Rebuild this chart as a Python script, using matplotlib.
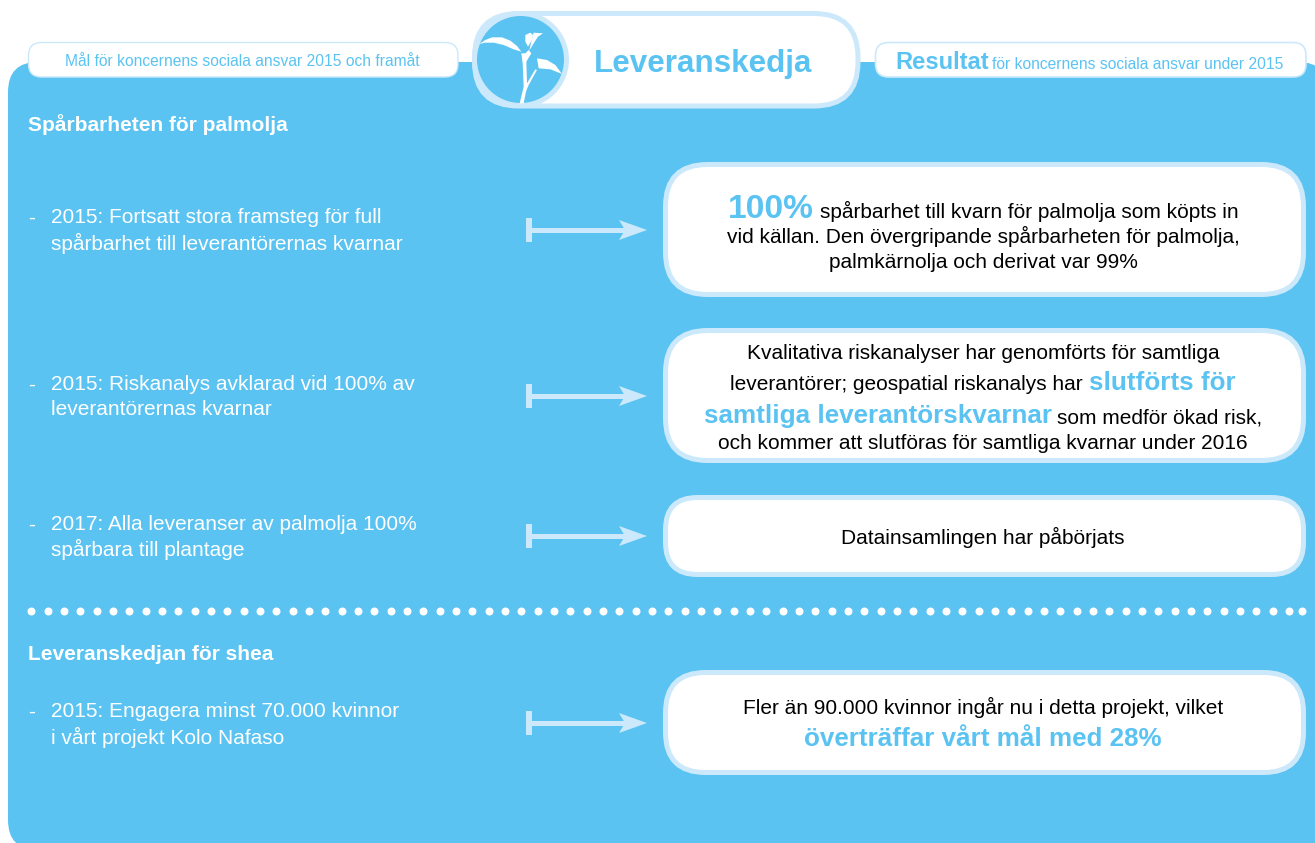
import numpy as np
from matplotlib import pyplot as plt
from matplotlib.patches import FancyBboxPatch, Circle, Polygon

plt.rcParams['font.family'] = ['Liberation Sans', 'DejaVu Sans']

BLUE = '#5AC3F2'
PALE = '#CBE9FB'

# texts
left_header = 'Mål för koncernens sociala ansvar 2015 och framåt'
right_header = 'för koncernens sociala ansvar under 2015'
section_titles = ['Spårbarheten för palmolja', 'Leveranskedjan för shea']
section_y = [124, 654]
goals = [
    ['2015: Fortsatt stora framsteg för full', 'spårbarhet till leverantörernas kvarnar'],
    ['2015: Riskanalys avklarad vid 100% av', 'leverantörernas kvarnar'],
    ['2017: Alla leveranser av palmolja 100%', 'spårbara till plantage'],
    ['2015: Engagera minst 70.000 kvinnor', 'i vårt projekt Kolo Nafaso'],
]
goal_y = [[217, 243], [384, 409], [524, 549], [711, 737]]
arrow_y = [230, 396, 536, 723]

# result boxes: top, bottom, corner
box_top = [162, 328, 495, 670]
box_bottom = [297, 463, 577, 775]
box_round = [42, 42, 32, 40]

# result lines: (baseline y, [(text, highlight size)])
result_lines = [
    (218, [('100%', 33.5), (' spårbarhet till kvarn för palmolja som köpts in', 0)]),
    (243, [('vid källan. Den övergripande spårbarheten för palmolja,', 0)]),
    (268, [('palmkärnolja och derivat var 99%', 0)]),
    (359, [('Kvalitativa riskanalyser har genomförts för samtliga', 0)]),
    (390, [('leverantörer; geospatial riskanalys har ', 0), ('slutförts för', 26)]),
    (423, [('samtliga leverantörskvarnar', 26), (' som medför ökad risk,', 0)]),
    (449, [('och kommer att slutföras för samtliga kvarnar under 2016', 0)]),
    (544, [('Datainsamlingen har påbörjats', 0)]),
    (714, [('Fler än 90.000 kvinnor ingår nu i detta projekt, vilket', 0)]),
    (746, [('överträffar vårt mål med 28%', 26)]),
]

fig = plt.figure(figsize=(13.15, 8.43), dpi=100)
ax = fig.add_axes([0, 0, 1, 1])
ax.set_xlim(0, 1315)
ax.set_ylim(843, 0)
ax.axis('off')


def rbox(x0, y0, x1, y1, r, fc, ec='none', lw=0, z=1):
    p = FancyBboxPatch((x0 + r, y0 + r), x1 - x0 - 2 * r, y1 - y0 - 2 * r,
                       boxstyle=f'round,pad={r},rounding_size={r}',
                       fc=fc, ec=ec, lw=lw, zorder=z)
    ax.add_patch(p)


def px(n):
    # pixels to points
    return n * 72 / 100


def runs(cx, y, parts):
    # centered line made of differently styled pieces
    renderer = fig.canvas.get_renderer()
    space = 5.8
    items = []
    widths = []
    for text, size in parts:
        if size:
            t = ax.text(0, y, text.strip(), fontsize=px(size), color=BLUE, weight='bold',
                        va='baseline', ha='left', zorder=5)
        else:
            t = ax.text(0, y, text.strip(), fontsize=px(20.85), color='black',
                        va='baseline', ha='left', zorder=5)
        w = t.get_window_extent(renderer).width
        if text.startswith(' '):
            w += space
        if text.endswith(' '):
            w += space
        items.append(t)
        widths.append(w)
    x = cx - sum(widths) / 2
    for (text, size), t, w in zip(parts, items, widths):
        t.set_x(x + (space if text.startswith(' ') else 0))
        x += w


# main panel
rbox(8, 62, 1328, 850, 30, BLUE)

# header tabs
rbox(28.5, 42.5, 458, 77, 13, 'white', ec=PALE, lw=1, z=2)
rbox(875.5, 42.5, 1306, 77, 13, 'white', ec=PALE, lw=1.2, z=2)
ax.text(242, 61.5, left_header, fontsize=px(15.65), color=BLUE, ha='center', va='center', zorder=5)
ax.text(895.5, 69, 'Resultat', fontsize=px(23.8), color=BLUE, weight='bold', ha='left', va='baseline', zorder=5)
ax.text(992, 69, right_header, fontsize=px(15.6), color=BLUE, ha='left', va='baseline', zorder=5)

# title pill with plant
rbox(474.5, 13.5, 858, 106, 44, 'white', ec=PALE, lw=px(5), z=2)
ax.text(703, 72, 'Leveranskedja', fontsize=px(31.4), color=BLUE, weight='bold', ha='center', va='baseline', zorder=5)
ax.add_patch(Circle((520.5, 59.5), 46, fc=BLUE, ec=PALE, lw=px(5), zorder=3))
# plant outlines in pixels of a 3x crop starting at (472, 20)
leaf_left = [(22, 72), (40, 60), (60, 52), (90, 52), (115, 62), (135, 78), (148, 95), (125, 88), (95, 75), (65, 68), (40, 68)]
stem = [(143, 250), (155, 250), (162, 215), (170, 195), (195, 150), (190, 148), (165, 190), (163, 125), (178, 100),
        (170, 90), (160, 100), (148, 100), (152, 130), (155, 200)]
leaf_right = [(195, 115), (225, 120), (250, 135), (270, 162), (235, 148), (200, 145)]
bud_a = [(160, 45), (175, 38), (183, 45), (180, 60), (168, 80), (160, 65)]
bud_b = [(185, 38), (213, 40), (198, 50), (185, 70), (172, 92), (178, 65)]
for shape in [leaf_left, stem, leaf_right, bud_a, bud_b]:
    pts = [(472 + a / 3, 20 + b / 3) for a, b in shape]
    ax.add_patch(Polygon(pts, closed=True, fc='white', ec='none', zorder=4))

# left column
for title, y in zip(section_titles, section_y):
    ax.text(28, y + 1, title, fontsize=px(20.9), color='white', weight='bold', ha='left', va='center', zorder=5)
for lines, ys in zip(goals, goal_y):
    ax.text(28, ys[0] + 1, '-', fontsize=px(21), color='white', ha='left', va='center', zorder=5)
    for line, y in zip(lines, ys):
        ax.text(51, y + 0.5, line, fontsize=px(20.85), color='white', ha='left', va='center', zorder=5)

# arrows
for y in arrow_y:
    ax.plot([529, 529], [y - 12, y + 12], color=PALE, lw=px(6), solid_capstyle='butt', zorder=2)
    ax.plot([529, 630], [y, y], color=PALE, lw=px(5), solid_capstyle='butt', zorder=2)
    ax.add_patch(Polygon([(619, y - 10), (647, y), (619, y + 10), (625, y)], closed=True, fc=PALE, ec='none', zorder=2))

# result boxes
for top, bottom, r in zip(box_top, box_bottom, box_round):
    rbox(665.5, top + 2.5, 1303.5, bottom - 2.5, r, 'white', ec=PALE, lw=px(5), z=2)
fig.canvas.draw()
for y, parts in result_lines:
    runs(983, y, parts)

# dotted separator
dots_x = np.arange(31.5, 1295, 16.33)
ax.scatter(dots_x, np.full(len(dots_x), 611), s=px(8) ** 2, color='white', linewidths=0, zorder=3)
ax.scatter([1302], [611], s=px(8) ** 2, color='white', linewidths=0, zorder=3)

plt.savefig('out.png', dpi=100)
